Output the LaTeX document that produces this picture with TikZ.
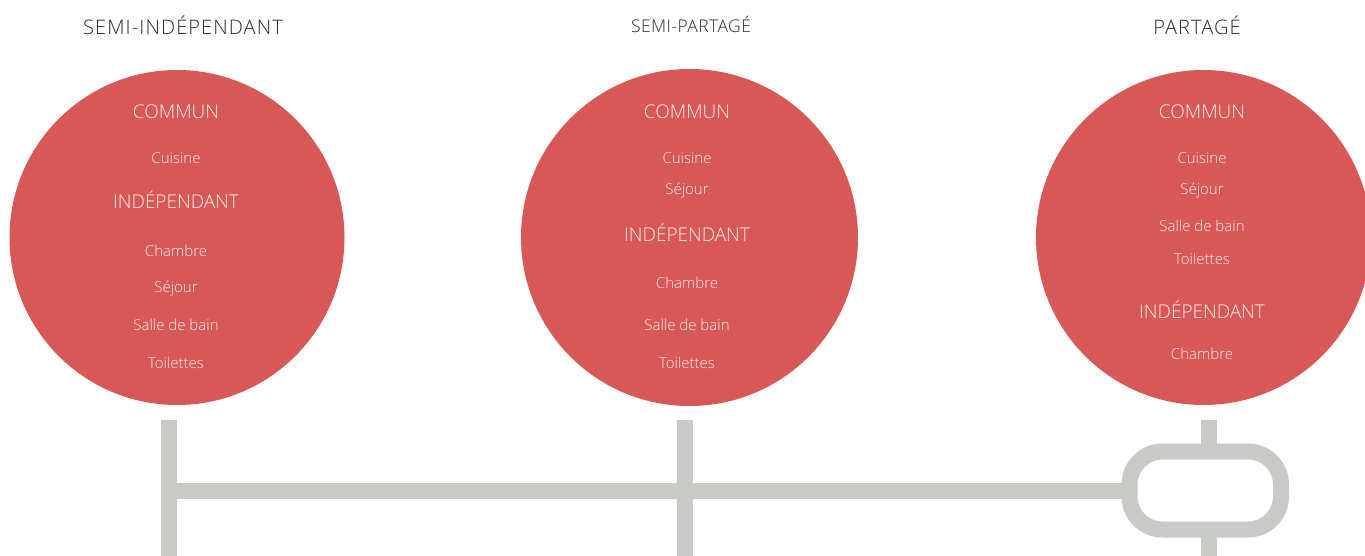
\documentclass[tikz,border=0pt]{standalone}
\usepackage{fontspec}
\setmainfont{Open Sans}[UprightFont={* Light}]
\definecolor{bubblered}{HTML}{D85757}
\definecolor{railgray}{HTML}{C8CAC5}
\definecolor{titlegray}{HTML}{2B2B2B}
\definecolor{bubbletext}{HTML}{FCF0F0}
\begin{document}
\begin{tikzpicture}[x=1pt,y=-1pt,
  bubble/.style={circle, fill=bubblered, inner sep=0pt, outer sep=0pt, minimum size=#1},
  title/.style={anchor=base, text=titlegray, inner sep=0pt, font=\fontsize{20}{24}\selectfont\addfontfeatures{LetterSpace=5.5}},
  subtitle/.style={title, font=\fontsize{17.5}{21}\selectfont\addfontfeatures{LetterSpace=2.5}},
  head/.style={anchor=base, text=bubbletext, inner sep=0pt, font=\fontsize{19}{23}\selectfont},
  item/.style={anchor=base, text=bubbletext, inner sep=0pt, font=\fontsize{15}{18}\selectfont},
  rail/.style={draw=railgray, line width=16pt, line cap=butt}]
  \fill[white] (0,0) rectangle (1365,556);
  \useasboundingbox (0,0) rectangle (1365,556);

  % column titles
  \node[title]    (t1) at (183,34.3) {SEMI-INDÉPENDANT};
  \node[subtitle] (t2) at (691,33)   {SEMI-PARTAGÉ};
  \node[title]    (t3) at (1197,34.3) {PARTAGÉ};

  % bubbles
  \node[bubble=335pt] (c1) at (177,237.5) {};
  \node[bubble=337pt] (c2) at (689.5,237.5) {};
  \node[bubble=335pt] (c3) at (1203.5,237.5) {};

  % first bubble
  \node[head] (c1h1) at (176,119) {COMMUN};
  \node[item] (c1a)  at (176,164) {Cuisine};
  \node[head] (c1h2) at (176,209) {INDÉPENDANT};
  \node[item] (c1b)  at (176,256) {Chambre};
  \node[item] (c1c)  at (176,292) {Séjour};
  \node[item] (c1d)  at (176,330) {Salle de bain};
  \node[item] (c1e)  at (176,368) {Toilettes};

  % second bubble
  \node[head] (c2h1) at (687,119) {COMMUN};
  \node[item] (c2a)  at (687,164) {Cuisine};
  \node[item] (c2b)  at (687,195) {Séjour};
  \node[head] (c2h2) at (687,241) {INDÉPENDANT};
  \node[item] (c2c)  at (687,288) {Chambre};
  \node[item] (c2d)  at (687,330) {Salle de bain};
  \node[item] (c2e)  at (687,368) {Toilettes};

  % third bubble
  \node[head] (c3h1) at (1202,119) {COMMUN};
  \node[item] (c3a)  at (1202,164) {Cuisine};
  \node[item] (c3b)  at (1202,195) {Séjour};
  \node[item] (c3c)  at (1202,231) {Salle de bain};
  \node[item] (c3d)  at (1202,264) {Toilettes};
  \node[head] (c3h2) at (1202,318) {INDÉPENDANT};
  \node[item] (c3e)  at (1202,359) {Chambre};

  % rails below the bubbles
  \coordinate (r1top) at (169,420);
  \coordinate (r1bot) at (169,556);
  \coordinate (r2top) at (685,420);
  \coordinate (r2bot) at (685,556);
  \coordinate (r3top) at (1209,420);
  \coordinate (r3bot) at (1209,556);
  \coordinate (junction) at (169,490.5);

  \node[rail, rectangle, rounded corners=33pt, inner sep=0pt, outer sep=0pt,
        minimum width=151.5pt, minimum height=78pt] (loop) at (1205.25,490.5) {};

  \draw[rail] (r1top) -- (r1bot);
  \draw[rail] (r2top) -- (r2bot);
  \draw[rail] (junction) -- (loop.west);
  \draw[rail] (r3top) -- (r3top |- loop.north);
  \draw[rail] (r3top |- loop.south) -- (r3bot);
\end{tikzpicture}
\end{document}
